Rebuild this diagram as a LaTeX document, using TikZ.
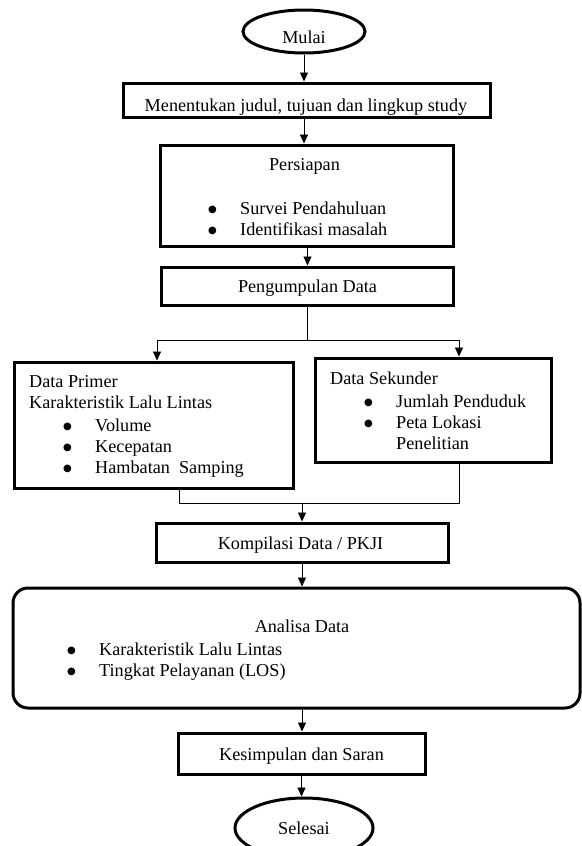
\documentclass[tikz,border=0pt]{standalone}
\usepackage{fontspec}
\setmainfont{Liberation Serif}
\newfontfamily\titik{DejaVu Sans}
\usepackage{tikz}
\usetikzlibrary{arrows.meta, shapes.geometric}
\newcommand{\butir}[1]{\makebox[32pt][l]{\raisebox{1.5pt}{\titik\fontsize{10}{10}\selectfont ●}}#1}
\newcommand{\baris}[1]{\begin{tabular}[t]{@{}l@{}}#1\end{tabular}}

\begin{document}
\begin{tikzpicture}[x=1pt, y=-1pt,
		kotak/.style={draw, line width=3pt, inner sep=0pt},
		oval/.style={draw, ellipse, line width=3pt, inner sep=0pt},
		teks/.style={inner sep=0pt, font=\fontsize{18.2}{21}\selectfont},
		daftar/.style={teks, anchor=base west},
		panah/.style={line width=0.9pt, -{Triangle[length=9pt, width=8pt]}},
		garis/.style={line width=0.9pt}]
			\useasboundingbox (0,0) rectangle (581,846);
			
			\node[oval, minimum width=122pt, minimum height=43pt] (mulai) at (304, 31.5) {};
			\node[kotak, minimum width=367pt, minimum height=34pt] (judul) at (306.5, 100) {};
			\node[kotak, minimum width=293pt, minimum height=101pt] (persiapan) at (306.5, 195.5) {};
			\node[kotak, minimum width=292pt, minimum height=38pt] (pengumpulan) at (307.5, 286) {};
			\node[kotak, minimum width=279pt, minimum height=126pt] (primer) at (153.5, 425) {};
			\node[kotak, minimum width=236pt, minimum height=104pt] (sekunder) at (433, 410) {};
			\node[kotak, minimum width=292pt, minimum height=39pt] (kompilasi) at (302, 542.5) {};
			\node[kotak, rounded corners=15pt, minimum width=567pt, minimum height=120pt] (analisa) at (296.5, 648) {};
			\node[kotak, minimum width=247pt, minimum height=41pt] (kesimpulan) at (301.5, 753.5) {};
			\node[oval, minimum width=138pt, minimum height=60pt] (selesai) at (304, 828) {};
			
			\node[teks, anchor=base] (mulaiteks) at (304, 43) {Mulai};
			\node[teks, anchor=base] (judulteks) at (306, 111) {Menentukan judul, tujuan dan lingkup study};
			\node[teks, anchor=base] (persiapanteks) at (304.5, 170) {Persiapan};
			\node[daftar] (persiapanisi) at (208, 214) {\baris{\butir{Survei Pendahuluan}\\\butir{Identifikasi masalah}}};
			\node[teks, anchor=base] (pengumpulanteks) at (307.5, 292) {Pengumpulan Data};
			\node[daftar] (primerisi) at (29, 387) {\baris{Data Primer\\Karakteristik Lalu Lintas\\[2pt]
				\hspace*{34pt}\butir{Volume}\\\hspace*{34pt}\butir{Kecepatan}\\\hspace*{34pt}\butir{Hambatan\ \ Samping}}};
			\node[daftar] (sekunderisi) at (330, 384) {\baris{Data Sekunder\\[2pt]
				\hspace*{34pt}\butir{Jumlah Penduduk}\\\hspace*{34pt}\butir{Peta Lokasi}\\\hspace*{66pt}Penelitian}};
			\node[teks, anchor=base] (kompilasiteks) at (300.5, 549) {Kompilasi Data / PKJI};
			\node[teks, anchor=base] (analisateks) at (302, 632) {Analisa Data};
			\node[daftar] (analisaisi) at (67, 655) {\baris{\butir{Karakteristik Lalu Lintas}\\\butir{Tingkat Pelayanan (LOS)}}};
			\node[teks, anchor=base] (kesimpulanteks) at (301.5, 760) {Kesimpulan dan Saran};
			\node[teks, anchor=base] (selesaiteks) at (304, 834) {Selesai};
			
			\coordinate (cabang) at (307.5, 340);
			\coordinate (kiri) at (157, 340);
			\coordinate (kanan) at (459, 340);
			\coordinate (bawahkiri) at (179, 503);
			\coordinate (bawahkanan) at (459, 503);
			\coordinate (gabung) at (302, 503);
			
			\draw[panah] (mulai.south) -- (mulai.south |- judul.north);
			\draw[panah] (judul.south -| mulai) -- (persiapan.north -| mulai);
			\draw[panah] (persiapan.south -| pengumpulan) -- (pengumpulan.north);
			\draw[garis] (pengumpulan.south) -- (cabang);
			\draw[panah] (cabang) -- (kiri) -- (kiri |- primer.north);
			\draw[panah] (cabang) -- (kanan) -- (kanan |- sekunder.north);
			\draw[garis] (bawahkiri |- primer.south) -- (bawahkiri) -- (bawahkanan) -- (bawahkanan |- sekunder.south);
			\draw[panah] (gabung) -- (kompilasi.north);
			\draw[panah] (kompilasi.south) -- (kompilasi.south |- analisa.north);
			\draw[panah] (analisa.south -| kompilasi) -- (kesimpulan.north -| kompilasi);
			\draw[panah] (kesimpulan.south) -- (kesimpulan.south |- selesai.north);
			
		\end{tikzpicture}
\end{document}
